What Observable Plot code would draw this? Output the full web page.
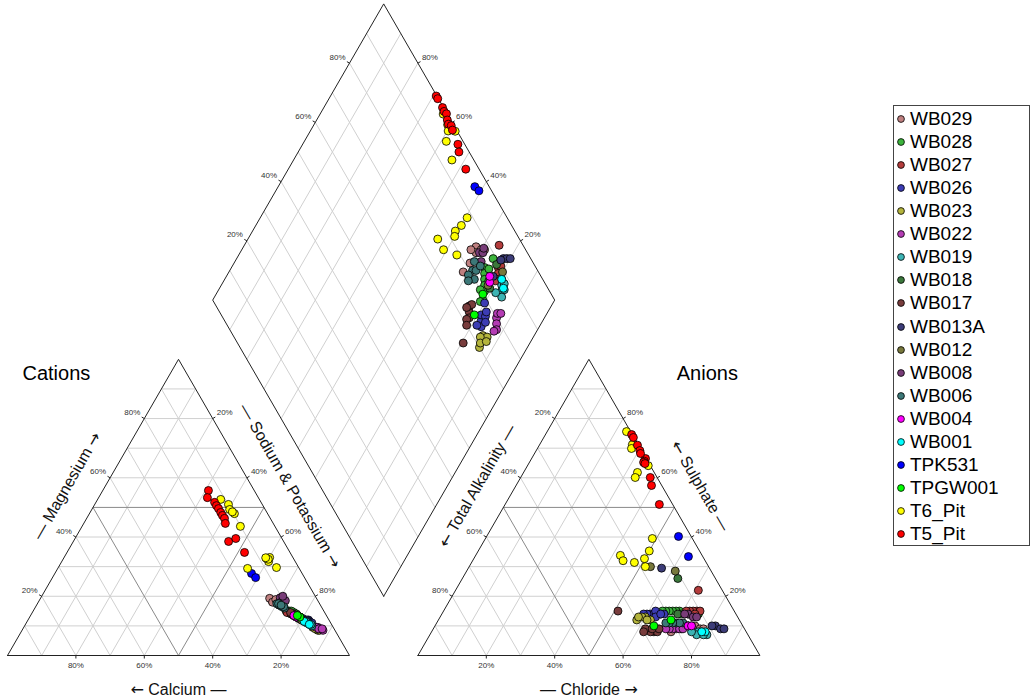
<!DOCTYPE html>
<html>
<head>
<meta charset="utf-8">
<script src="https://cdn.jsdelivr.net/npm/d3@7"></script>
<script src="https://cdn.jsdelivr.net/npm/@observablehq/plot@0.6"></script>
<style>
html, body { margin: 0; padding: 0; background: #fff; }
#wrap { position: relative; width: 1036px; height: 699px; font-family: "Liberation Sans", Arial, sans-serif; }
#legend { position: absolute; left: 893px; top: 105px; width: 137px; height: 441px; border: 1px solid #444; box-sizing: border-box; }
#legend .row { position: absolute; left: 0; height: 23px; display: flex; align-items: center; font-size: 19px; color: #000; white-space: nowrap; }
#legend svg { margin-left: 2px; margin-right: 4px; }
</style>
</head>
<body>
<div id="wrap"><div id="legend"></div></div>
<script>
// ---------------- data ----------------
const seriesNames = ["WB029","WB028","WB027","WB026","WB023","WB022","WB019","WB018","WB017","WB013A","WB012","WB008","WB006","WB004","WB001","TPK531","TPGW001","T6_Pit","T5_Pit"];
const seriesColors = ["#BF8080","#3CB43C","#B43C3C","#3C3CB4","#B4B43C","#B43CB4","#3CB4B4","#3C783C","#783C3C","#3C3C78","#78783C","#783C78","#3C7878","#FF00FF","#00FFFF","#0000FF","#00FF00","#FFFF00","#FF0000"];

// each sample: [Calcium, Magnesium, Sodium+Potassium, Total Alkalinity, Chloride, Sulphate] (% meq)
const WB029 = [[13.4,18.6,68.0,14,76,10],[12.6,18.4,69.0,15,75,10],[12.2,17.8,70.0,13,78,9],[13.7,19.3,67.0,16,74,10],[13.5,18.0,68.5,22,70,8],[12.1,18.9,69.0,18.5,72.5,9],[12.0,17.0,71.0,12,79,9]];
const WB028 = [[11.0,15.0,74.0,15,71,14],[10.0,15.0,75.0,16,69,15],[10.0,14.0,76.0,17,68,15],[9.0,14.0,77.0,18,67,15],[8.5,13.5,78.0,19,66,15],[9.0,14.5,76.5,20,65,15],[8.0,13.0,79.0,21,64,15],[8.5,14.0,77.5,16,70,14],[9.5,15.0,75.5,14,72,14],[8.5,13.0,78.5,22,64,14],[10.5,14.5,75.0,11,75,14]];
const WB027 = [[11.0,14.5,74.5,7,71,22],[9.0,13.0,78.0,11,74,15],[8.5,12.5,79.0,12,73,15],[8.0,12.0,80.0,13,72,15],[8.5,13.0,78.5,10,75,15],[8.0,12.5,79.5,14,71,15],[7.5,11.5,81.0,12,74,14]];
const WB026 = [[6.0,12.0,82.0,25,61,14],[7.0,12.0,81.0,24,62,14],[6.0,11.0,83.0,26,60,14],[6.0,11.5,82.5,23,62,15],[6.5,12.0,81.5,27,59,14],[5.5,11.0,83.5,24,63,13],[7.5,12.5,80.0,21,65,14],[6.5,11.5,82.0,22,64,14]];
const WB023 = [[5.0,9.0,86.0,30,58,12],[5.5,9.5,85.0,27,60,13],[5.0,8.5,86.5,26,62,12],[6.0,9.5,84.5,28,59,13],[5.5,9.0,85.5,29,58,13],[4.5,8.5,87.0,27,61,12]];
const WB022 = [[4.5,9.5,86.0,20,71,9],[4.0,9.0,87.0,21,70,9],[5.0,9.5,85.5,19,72,9],[3.5,8.5,88.0,22,69,9],[4.5,9.0,86.5,18,73,9],[3.5,9.0,87.5,23,68,9]];
const WB019 = [[7.0,11.0,82.0,13,79,8],[6.5,10.5,83.0,14,78,8],[6.0,10.0,84.0,15,78,7],[6.5,11.0,82.5,12,81,7],[6.0,10.5,83.5,13,80,7],[7.0,11.5,81.5,16,76,8]];
const WB018 = [[9.5,13.5,77.0,11,63,26],[8.0,13.0,79.0,17,69,14]];
const WB017 = [[7.5,12.0,80.5,34,51,15],[9.5,13.5,77.0,27,65,8],[9.0,13.0,78.0,28,64,8],[10.0,14.0,76.0,26,66,8],[9.0,13.5,77.5,29,62,9],[9.5,14.0,76.5,25,66,9],[8.5,13.0,78.5,30,62,8],[10.0,14.5,75.5,27,64,9]];
const WB013A = [[9.0,13.0,78.0,8,82,10],[8.5,12.5,79.0,7,84,9],[9.0,13.5,77.5,9,81,10],[8.0,12.0,80.0,6,85,9],[8.5,13.5,78.0,14,56.5,29.5]];
const WB012 = [[8.0,12.0,80.0,10.5,61,28.5],[9.0,13.0,78.0,17,53,30]];
const WB008 = [[10.5,19.5,70.0,14,72,14],[10.0,19.0,71.0,13,74,13],[9.5,18.5,72.0,15,71,14],[9.5,20.0,70.5,12,75,13]];
const WB006 = [[12.5,17.5,70.0,17,72,11],[12.0,17.0,71.0,19,70,11],[11.5,16.5,72.0,18,71,11],[11.0,16.0,73.0,20,69,11],[12.0,17.5,70.5,21,68,11],[11.0,16.5,72.5,16,74,10],[11.5,17.0,71.5,22,67,11]];
const WB004 = [[9.0,13.0,78.0,16,74,10],[9.5,13.5,77.0,15,75,10]];
const WB001 = [[7.5,11.5,81.0,12,80,8],[6.5,10.5,83.0,13,79,8]];
const TPK531 = [[14.8,27.7,57.5,4.2,62.4,33.4],[14.3,26.3,59.4,3.7,56.1,40.2]];
const TPGW001 = [[8.0,13.0,79.0,26,64,10],[8.5,13.5,78.0,20,68,12]];
const T6_Pit = [[11.3,52.7,36.0,1.2,23.2,75.6],[9.9,51.0,39.1,1.7,27.1,71.2],[10.4,49.3,40.3,2.6,27.5,69.9],[9.7,47.9,42.4,0.6,35.3,64.1],[10.0,48.5,41.5,4.9,33.3,61.8],[10.1,43.6,46.3,6.4,33.5,60.1],[7.8,31.7,60.5,11.7,48.8,39.5],[6.8,33.1,60.1,14.7,50.0,35.3],[7.9,32.8,59.3,17.4,49.9,32.7],[7.5,32.5,60.0,18.5,51.5,30.0],[15.1,29.4,55.5,23.9,42.3,33.8],[8.0,33.0,59.0,24.0,44.0,32.0],[6.5,29.7,63.8,21.0,47.6,31.4]];
const T5_Pit = [[13.4,55.7,30.9,0.2,25.2,74.6],[14.9,53.3,31.8,0.2,26.2,73.6],[13.6,51.7,34.7,0.3,28.7,71.0],[13.6,50.6,35.8,0.5,30.3,69.2],[13.5,49.6,36.9,0.2,33.3,66.5],[13.5,48.3,38.2,1.0,33.4,65.6],[13.5,47.3,39.2,1.4,33.4,65.2],[13.4,46.3,40.3,0.8,31.0,68.2],[14.0,44.6,41.4,1.2,34.0,64.8],[16.1,38.5,45.4,2.0,37.9,60.1],[13.5,39.5,47.0,3.0,39.6,57.4],[13.3,34.8,51.9,3.9,45.1,51.0]];

const seriesData = [WB029,WB028,WB027,WB026,WB023,WB022,WB019,WB018,WB017,WB013A,WB012,WB008,WB006,WB004,WB001,TPK531,TPGW001,T6_Pit,T5_Pit];

const gridLevels = [10,20,30,40,50,60,70,80,90];
const tickLevels = [20,40,60,80];

// ---------------- geometry ----------------
const H = Math.sqrt(3) / 2;   // triangle height (side = 1)
const G = 0.2;                // gap between triangles
const S = 342;                // pixels per unit
const X0 = 7, Y0 = 655;       // pixel position of origin
const P = 1 / S;              // one pixel in data units

const cat = (ca, mg, na) => [na + mg / 2, H * mg];
const ani = (alk, cl, so4) => [1 + G + cl + so4 / 2, H * so4];
const dia = (a, b) => [0.5 + G / 2 + (a + b) / 2, G * H + H * (1 + b - a)];

// points
const rows = [];
seriesNames.forEach((name, i) => {
  seriesData[i].forEach(([ca, mg, na, alk, cl, so4]) => {
    const sc = ca + mg + na, sa = alk + cl + so4;
    const [cx, cy] = cat(ca / sc, mg / sc, na / sc);
    const [ax, ay] = ani(alk / sa, cl / sa, so4 / sa);
    const [px, py] = dia(na / sc, (cl + so4) / sa);
    rows.push({site: name, cx, cy, ax, ay, px, py});
  });
});

// grid
const seg = (p, q, major) => ({x1: p[0], y1: p[1], x2: q[0], y2: q[1], major});
const grid = [];
gridLevels.forEach(v => {
  const f = v / 100, major = v === 50;
  grid.push(seg(cat(1 - f, f, 0), cat(0, f, 1 - f), major));
  grid.push(seg(cat(1 - f, 0, f), cat(0, 1 - f, f), major));
  grid.push(seg(cat(f, 0, 1 - f), cat(f, 1 - f, 0), major));
  grid.push(seg(ani(1 - f, 0, f), ani(0, 1 - f, f), major));
  grid.push(seg(ani(1 - f, f, 0), ani(0, f, 1 - f), major));
  grid.push(seg(ani(f, 1 - f, 0), ani(f, 0, 1 - f), major));
  grid.push(seg(dia(f, 0), dia(f, 1), false));
  grid.push(seg(dia(0, f), dia(1, f), false));
});

// outlines
const outline = [];
[[cat(1,0,0), cat(0,0,1), cat(0,1,0)],
 [ani(1,0,0), ani(0,1,0), ani(0,0,1)],
 [dia(1,0), dia(1,1), dia(0,1), dia(0,0)]].forEach((poly, k) => {
  [...poly, poly[0]].forEach(([x, y]) => outline.push({shape: k, x, y}));
});

// ticks and tick labels
const ticks = [], labels = [];
const edges = [
  {pt: f => cat(f, 0, 1 - f), n: [0, -1], side: "bottom"},
  {pt: f => cat(1 - f, f, 0), n: [-H, 0.5], side: "left"},
  {pt: f => cat(0, 1 - f, f), n: [H, 0.5], side: "right"},
  {pt: f => ani(1 - f, f, 0), n: [0, -1], side: "bottom"},
  {pt: f => ani(f, 0, 1 - f), n: [-H, 0.5], side: "left"},
  {pt: f => ani(0, 1 - f, f), n: [H, 0.5], side: "right"},
  {pt: f => dia(0, f), n: [-H, 0.5], side: "left"},
  {pt: f => dia(1 - f, 1), n: [H, 0.5], side: "right"}
];
edges.forEach(e => tickLevels.forEach(v => {
  const [x, y] = e.pt(v / 100);
  ticks.push({x1: x, y1: y, x2: x + e.n[0] * 3 * P, y2: y + e.n[1] * 3 * P});
  const off = e.side === "bottom" ? [0, -10 * P] : e.side === "left" ? [-4 * P, 6 * P] : [4 * P, 6 * P];
  labels.push({x: x + off[0], y: y + off[1], text: v + "%", side: e.side});
}));

// axis titles
const tOff = 34 * P;
const axisTitles = [
  {x: 0.5, y: -tOff, text: "\u2190 Calcium \u2014", rot: 0},
  {x: 1 + G + 0.5, y: -tOff, text: "\u2014 Chloride \u2192", rot: 0},
  {x: 0.25 - 26 * P, y: H / 2 + 21.5 * P, text: "\u2014 Magnesium \u2192", rot: -60},
  {x: 1 + G + 0.25 - 26 * P, y: H / 2 + 21.5 * P, text: "\u2190 Total Alkalinity \u2014", rot: -60},
  {x: 0.75 + 26 * P, y: H / 2 + 21.5 * P, text: "\u2014 Sodium & Potassium \u2192", rot: 60},
  {x: 1 + G + 0.75 + 26 * P, y: H / 2 + 21.5 * P, text: "\u2190 Sulphate \u2014", rot: 60}
];
const panelTitles = [
  {x: 15 * P, y: H - 14 * P, text: "Cations", anchor: "start"},
  {x: 2 + G - 22 * P, y: H - 14 * P, text: "Anions", anchor: "end"}
];

const font = "Liberation Sans, Arial, sans-serif";
const chart = Plot.plot({
  width: 1036,
  height: 699,
  margin: 0,
  x: {type: "linear", domain: [0, 1], range: [X0, X0 + S], axis: null},
  y: {type: "linear", domain: [0, 1], range: [Y0, Y0 - S], axis: null},
  color: {domain: seriesNames, range: seriesColors},
  style: {fontFamily: font, background: "white"},
  marks: [
    Plot.link(grid.filter(d => !d.major), {x1: "x1", y1: "y1", x2: "x2", y2: "y2", stroke: "#d0d0d0", strokeWidth: 1}),
    Plot.link(grid.filter(d => d.major), {x1: "x1", y1: "y1", x2: "x2", y2: "y2", stroke: "#8a8a8a", strokeWidth: 1}),
    Plot.line(outline, {x: "x", y: "y", z: "shape", stroke: "#222", strokeWidth: 1}),
    Plot.link(ticks, {x1: "x1", y1: "y1", x2: "x2", y2: "y2", stroke: "#222", strokeWidth: 1}),
    Plot.text(labels.filter(d => d.side === "bottom"), {x: "x", y: "y", text: "text", fontSize: 8, fill: "#333", textAnchor: "middle"}),
    Plot.text(labels.filter(d => d.side === "left"), {x: "x", y: "y", text: "text", fontSize: 8, fill: "#333", textAnchor: "end"}),
    Plot.text(labels.filter(d => d.side === "right"), {x: "x", y: "y", text: "text", fontSize: 8, fill: "#333", textAnchor: "start"}),
    Plot.dot(rows, {x: "cx", y: "cy", fill: "site", stroke: "#000", strokeWidth: 0.8, r: 4}),
    Plot.dot(rows, {x: "ax", y: "ay", fill: "site", stroke: "#000", strokeWidth: 0.8, r: 4}),
    Plot.dot(rows, {x: "px", y: "py", fill: "site", stroke: "#000", strokeWidth: 0.8, r: 4}),
    Plot.text(axisTitles.filter(d => d.rot === 0), {x: "x", y: "y", text: "text", fontSize: 16, fill: "#111"}),
    Plot.text(axisTitles.filter(d => d.rot === -60), {x: "x", y: "y", text: "text", fontSize: 16, fill: "#111", rotate: -60}),
    Plot.text(axisTitles.filter(d => d.rot === 60), {x: "x", y: "y", text: "text", fontSize: 16, fill: "#111", rotate: 60}),
    Plot.text(panelTitles.filter(d => d.anchor === "start"), {x: "x", y: "y", text: "text", fontSize: 20, fill: "#000", textAnchor: "start"}),
    Plot.text(panelTitles.filter(d => d.anchor === "end"), {x: "x", y: "y", text: "text", fontSize: 20, fill: "#000", textAnchor: "end"})
  ]
});

// draw the arrow glyphs of the axis titles with a font that has bold arrowheads
const svgNS = "http://www.w3.org/2000/svg";
chart.querySelectorAll("text").forEach(t => {
  const s = t.textContent;
  if (!/[\u2190\u2192]/.test(s)) return;
  t.textContent = "";
  s.split(/([\u2190\u2192])/).forEach(part => {
    if (!part) return;
    const ts = document.createElementNS(svgNS, "tspan");
    ts.textContent = part;
    if (/[\u2190\u2192]/.test(part)) ts.setAttribute("font-family", "DejaVu Sans");
    t.appendChild(ts);
  });
});

const wrap = document.getElementById("wrap");
wrap.insertBefore(chart, wrap.firstChild);

// legend
const legend = document.getElementById("legend");
seriesNames.forEach((name, i) => {
  const row = document.createElement("div");
  row.className = "row";
  row.style.top = (1.5 + i * 23.06) + "px";
  row.innerHTML = `<svg width="10" height="10"><circle cx="5" cy="5" r="3.4" fill="${seriesColors[i]}" stroke="#000" stroke-width="0.8"></circle></svg><span>${name}</span>`;
  legend.appendChild(row);
});
</script>
</body>
</html>
